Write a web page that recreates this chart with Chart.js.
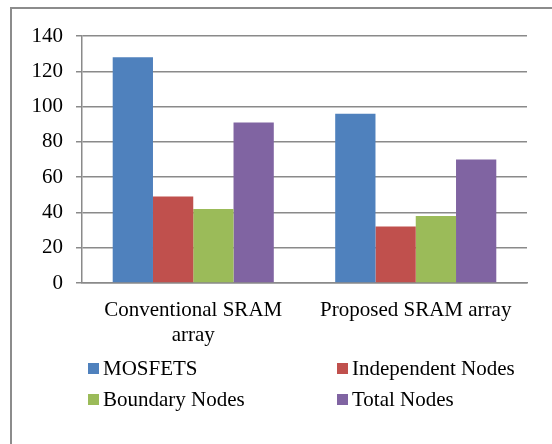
<!DOCTYPE html>
<html lang="en">
<head>
<meta charset="UTF-8">
<script src="https://cdn.jsdelivr.net/npm/chart.js"></script>
<title>Conventional vs Proposed SRAM array</title>
<style>
    body {
        margin: 0;
        width: 552px;
        height: 444px;
        overflow: hidden;
        position: relative;
        background: #fff;
        font-family: "Liberation Serif", "Times New Roman", serif;
    }
    .frame {
        position: absolute;
        left: 10px;
        top: 7px;
        width: 600px;
        height: 500px;
        border: 2px solid #8c8c8c;
    }
    #nodesChart {
        position: absolute;
        left: 0;
        top: 0;
    }
    #legend {
        position: absolute;
        left: 88px;
        top: 353px;
        display: grid;
        grid-template-columns: 249px 200px;
        font-size: 21px;
        color: #000;
    }
    #legend .item {
        display: flex;
        align-items: center;
        height: 31px;
        line-height: 31px;
        white-space: nowrap;
    }
    #legend .box {
        width: 11px;
        height: 11px;
        margin-right: 4px;
    }
</style>
</head>
<body>
    <div class="frame"></div>
    <canvas id="nodesChart" width="552" height="444"></canvas>
    <div id="legend"></div>
<script>
    // categories and series
    const arrays = [['Conventional SRAM', 'array'], 'Proposed SRAM array'];
    const seriesNames = ['MOSFETS', 'Independent Nodes', 'Boundary Nodes', 'Total Nodes'];
    const mosfets = [128, 96];
    const independentNodes = [49, 32];
    const boundaryNodes = [42, 38];
    const totalNodes = [91, 70];
    const yTicks = [0, 20, 40, 60, 80, 100, 120, 140];

    const colors = ['#4f81bd', '#c0504d', '#9bbb59', '#8064a2'];
    const seriesValues = [mosfets, independentNodes, boundaryNodes, totalNodes];
    const gridColor = '#8a8a8a';
    const font = { family: '"Liberation Serif", "Times New Roman", serif', size: 21 };

    const chart = new Chart(document.getElementById('nodesChart'), {
        type: 'bar',
        data: {
            labels: arrays,
            datasets: seriesNames.map((name, i) => ({
                label: name,
                data: seriesValues[i],
                backgroundColor: colors[i],
                borderWidth: 0,
                barPercentage: 1,
                categoryPercentage: 0.724
            }))
        },
        options: {
            responsive: false,
            animation: false,
            layout: { padding: { top: 36, right: 25, left: 0, bottom: 0 } },
            plugins: {
                legend: { display: false },
                tooltip: { enabled: false }
            },
            scales: {
                x: {
                    grid: { display: false },
                    border: { display: true, color: gridColor, width: 1.5 },
                    ticks: { color: '#000', font: font, padding: 7, maxRotation: 0, autoSkip: false },
                    afterFit: scale => { scale.height = 161; }
                },
                y: {
                    min: 0,
                    max: 140,
                    afterBuildTicks: scale => { scale.ticks = yTicks.map(v => ({ value: v })); },
                    grid: { color: gridColor, lineWidth: 1.5, tickLength: 6 },
                    border: { display: true, color: gridColor, width: 1.5 },
                    ticks: { color: '#000', font: font, padding: 13 },
                    afterFit: scale => { scale.width = 82; }
                }
            }
        }
    });

    // two-column legend under the axis
    const legend = document.getElementById('legend');
    chart.data.datasets.forEach(ds => {
        const item = document.createElement('div');
        item.className = 'item';
        const box = document.createElement('span');
        box.className = 'box';
        box.style.background = ds.backgroundColor;
        item.appendChild(box);
        item.appendChild(document.createTextNode(ds.label));
        legend.appendChild(item);
    });
</script>
</body>
</html>
